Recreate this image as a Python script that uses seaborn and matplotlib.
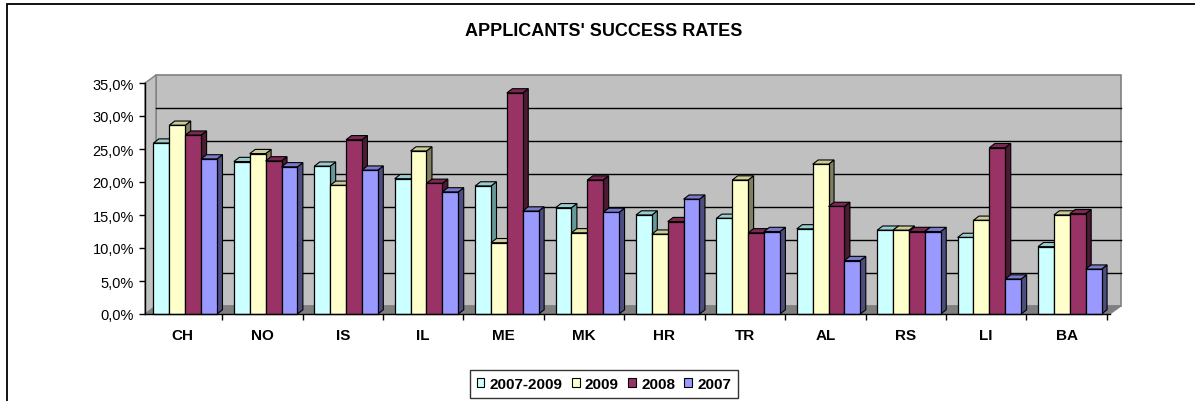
import matplotlib
matplotlib.use("Agg")
import matplotlib.pyplot as plt
import seaborn as sns
import pandas as pd
from matplotlib.patches import Polygon, Rectangle
from matplotlib.ticker import FuncFormatter, FixedLocator

# ---------------- data ----------------
categories = ["CH", "NO", "IS", "IL", "ME", "MK", "HR", "TR", "AL", "RS", "LI", "BA"]
series_names = ["2007-2009", "2009", "2008", "2007"]
rate_2007_2009 = [25.9, 23.1, 22.4, 20.5, 19.4, 16.1, 15.0, 14.5, 12.9, 12.7, 11.6, 10.2]
rate_2009 = [28.6, 24.3, 19.5, 24.7, 10.8, 12.3, 12.1, 20.3, 22.7, 12.7, 14.2, 15.0]
rate_2008 = [27.1, 23.2, 26.4, 19.8, 33.5, 20.3, 14.0, 12.3, 16.3, 12.5, 25.2, 15.2]
rate_2007 = [23.5, 22.3, 21.8, 18.5, 15.6, 15.4, 17.4, 12.5, 8.1, 12.5, 5.3, 6.8]
y_ticks = [0, 5, 10, 15, 20, 25, 30, 35]
title = "APPLICANTS' SUCCESS RATES"

front_colors = ["#CCFFFF", "#FFFFCC", "#993366", "#9999FF"]
top_colors = ["#99CCCC", "#CCCC99", "#7A2952", "#7A7ACC"]
side_colors = ["#669999", "#808060", "#4D1A33", "#4D4D80"]

df = pd.DataFrame({
    "country": categories * 4,
    "series": [s for s in series_names for _ in categories],
    "rate": rate_2007_2009 + rate_2009 + rate_2008 + rate_2007,
})

# ---------------- figure ----------------
W, H, DPI = 1195, 402, 100
plt.rcParams["font.family"] = ["Liberation Sans", "DejaVu Sans"]
fig = plt.figure(figsize=(W / DPI, H / DPI), dpi=DPI)
fig.patch.set_facecolor("white")

# plot area (front plane) in pixels
x0, x1 = 145, 1110
y_top, y_bot = 84, 315
ax = fig.add_axes([x0 / W, 1 - y_bot / H, (x1 - x0) / W, (y_bot - y_top) / H])
ax.set_facecolor("none")

n = len(categories)
shift = 0.04
ax.set_xlim(-0.5 - shift, n - 0.5 - shift)
ax.set_ylim(0, 35)

sns.barplot(data=df, x="country", y="rate", hue="series", order=categories,
            hue_order=series_names, palette=front_colors, width=0.79,
            edgecolor="black", linewidth=0.9, saturation=1, ax=ax, legend=True)

xlo, xhi = ax.get_xlim()
ylo, yhi = ax.get_ylim()
px_x = (x1 - x0) / (xhi - xlo)
px_y = (y_bot - y_top) / (yhi - ylo)

# wall/floor depth and bar depth (in data units)
wdx, wdy = 11 / px_x, 8 / px_y
bdx, bdy = 5.5 / px_x, 4.2 / px_y

wall_kw = dict(clip_on=False)
# back wall
ax.add_patch(Polygon([(xlo + wdx, ylo + wdy), (xhi + wdx, ylo + wdy),
                      (xhi + wdx, yhi + wdy), (xlo + wdx, yhi + wdy)],
                     closed=True, facecolor="#C0C0C0", edgecolor="#808080",
                     linewidth=1.2, zorder=0.1, **wall_kw))
# left side wall
ax.add_patch(Polygon([(xlo, ylo), (xlo + wdx, ylo + wdy), (xlo + wdx, yhi + wdy), (xlo, yhi)],
                     closed=True, facecolor="#C0C0C0", edgecolor="#808080",
                     linewidth=1.0, zorder=0.15, **wall_kw))
# gridlines on back wall
for t in y_ticks[1:-1]:
    ax.plot([xlo + wdx, xhi + wdx], [t + wdy, t + wdy], color="black",
            linewidth=1.0, zorder=0.2, clip_on=False)
# floor
ax.add_patch(Polygon([(xlo, ylo), (xhi, ylo), (xhi + wdx, ylo + wdy), (xlo + wdx, ylo + wdy)],
                     closed=True, facecolor="#808080", edgecolor="#808080",
                     linewidth=0.8, zorder=0.3, **wall_kw))

# 3D faces for each bar (derived from seaborn's bar patches)
bars = []
for ci, cont in enumerate(ax.containers):
    for rect in cont:
        bars.append((rect.get_x(), ci, rect))
bars.sort(key=lambda b: b[0])
z = 1.0
for _, ci, rect in bars:
    bx, bw, bh = rect.get_x(), rect.get_width(), rect.get_height()
    side = Polygon([(bx + bw, 0), (bx + bw + bdx, bdy), (bx + bw + bdx, bh + bdy), (bx + bw, bh)],
                   closed=True, facecolor=side_colors[ci], edgecolor="black",
                   linewidth=0.8, zorder=z, clip_on=False)
    top = Polygon([(bx, bh), (bx + bw, bh), (bx + bw + bdx, bh + bdy), (bx + bdx, bh + bdy)],
                  closed=True, facecolor=top_colors[ci], edgecolor="black",
                  linewidth=0.8, zorder=z + 0.01, clip_on=False)
    ax.add_patch(side)
    ax.add_patch(top)
    rect.set_zorder(z + 0.02)
    rect.set_clip_on(False)
    z += 0.05

# axes / ticks
for s in ["top", "right"]:
    ax.spines[s].set_visible(False)
for s in ["left", "bottom"]:
    ax.spines[s].set_color("black")
    ax.spines[s].set_linewidth(1.0)
    ax.spines[s].set_zorder(20)

ax.set_yticks(y_ticks)
ax.yaxis.set_major_formatter(FuncFormatter(lambda v, p: f"{v:.1f}%".replace(".", ",")))
ax.tick_params(axis="y", length=4, width=1, direction="out", pad=4,
               labelsize=10.5, colors="black")

ax.set_xticks([i - shift for i in range(n)])
ax.set_xticklabels(categories, fontsize=11, fontweight="bold")
ax.xaxis.set_minor_locator(FixedLocator([i + 0.5 - shift for i in range(n)]))
ax.tick_params(axis="x", which="major", length=0, pad=10)
ax.tick_params(axis="x", which="minor", length=4, width=1, direction="out", color="black")
ax.set_xlabel("")
ax.set_ylabel("")

# title
fig.text(604 / W, 1 - 31 / H, title, ha="center", va="center",
         fontsize=13, fontweight="bold")

# legend
handles, labels = ax.get_legend_handles_labels()
if ax.get_legend() is not None:
    ax.get_legend().remove()
leg = fig.legend(handles, labels, loc="center", bbox_to_anchor=(604 / W, 1 - 385 / H),
                 ncol=4, frameon=True, fancybox=False, edgecolor="black",
                 prop={"weight": "bold", "size": 11}, handlelength=0.5,
                 handleheight=0.5, handletextpad=0.35, columnspacing=0.6,
                 borderpad=0.45, borderaxespad=0)
leg.get_frame().set_linewidth(1.0)
for h in leg.legend_handles:
    h.set_edgecolor("black")
    h.set_linewidth(0.8)

# outer chart frame (left and top edges visible)
fig.add_artist(Rectangle((7 / W, -0.1), 1.2, 1.1 - 4.5 / H, transform=fig.transFigure,
                         facecolor="none", edgecolor="black", linewidth=1.3))

fig.savefig("out.png", dpi=DPI, facecolor="white")
